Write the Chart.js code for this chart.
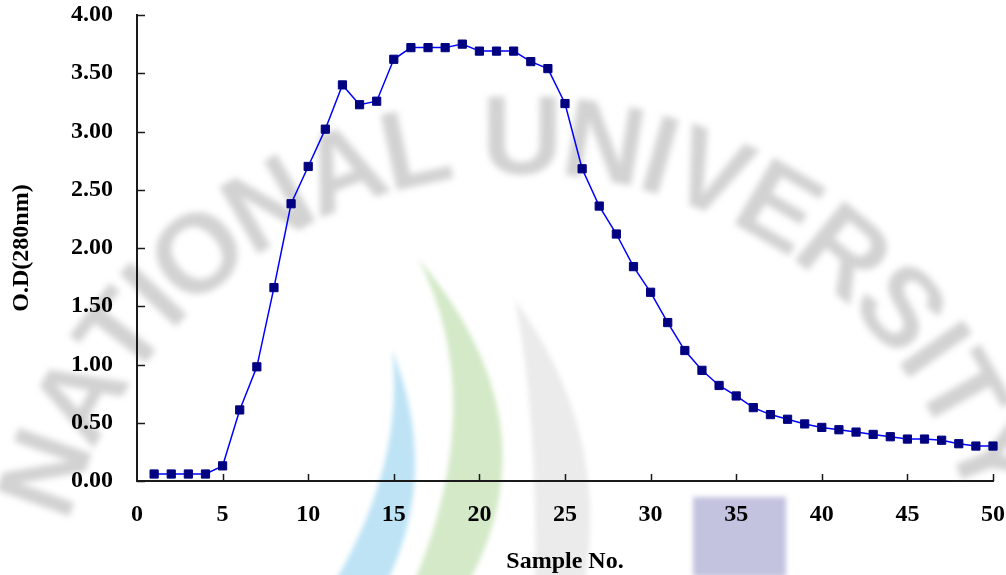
<!DOCTYPE html>
<html>
<head>
<meta charset="utf-8">
<script src="https://cdn.jsdelivr.net/npm/chart.js@4.4.1/dist/chart.umd.min.js"></script>
<style>
html, body { margin: 0; padding: 0; background: #fff; }
#wrap { width: 1006px; height: 575px; }
</style>
</head>
<body>
<div id="wrap"><canvas id="c-od" width="1006" height="575"></canvas></div>
<script>
// Elution profile, absorbance at 280 nm per collected fraction
const SAMPLES = [1,2,3,4,5,6,7,8,9,10,11,12,13,14,15,16,17,18,19,20,21,22,23,24,25,
                 26,27,28,29,30,31,32,33,34,35,36,37,38,39,40,41,42,43,44,45,46,47,48,49,50];
const OD = [0.06,0.06,0.06,0.06,0.13,0.61,0.98,1.66,2.38,2.70,3.02,3.40,3.23,3.26,3.62,
            3.72,3.72,3.72,3.75,3.69,3.69,3.69,3.60,3.54,3.24,2.68,2.36,2.12,1.84,1.62,
            1.36,1.12,0.95,0.82,0.73,0.63,0.57,0.53,0.49,0.46,0.44,0.42,0.40,0.38,0.36,
            0.36,0.35,0.32,0.30,0.30];
const X_TICKS = [0,5,10,15,20,25,30,35,40,45,50];
const Y_TICKS = [0,0.5,1,1.5,2,2.5,3,3.5,4];
const X_TITLE = 'Sample No.';
const Y_TITLE = 'O.D(280nm)';
const WATERMARK = 'NATIONAL UNIVERSITY';

const FONT = '"Liberation Serif", "Times New Roman", serif';
const AXIS_COLOR = '#1a1a1a';

// faint background stamp that sits behind the plot
const watermark = {
  id: 'watermark',
  beforeDraw(chart) {
    const ctx = chart.ctx;
    ctx.save();
    ctx.filter = 'blur(2.5px)';

    ctx.fillStyle = '#c3c3df';
    ctx.fillRect(693, 497, 93, 80);

    ctx.fillStyle = '#ebebeb';
    ctx.beginPath();
    ctx.moveTo(515, 300);
    ctx.quadraticCurveTo(610, 430, 585, 580);
    ctx.lineTo(535, 580);
    ctx.quadraticCurveTo(538, 420, 515, 300);
    ctx.fill();

    ctx.fillStyle = '#d3e9c7';
    ctx.beginPath();
    ctx.moveTo(418, 258);
    ctx.quadraticCurveTo(555, 420, 470, 580);
    ctx.lineTo(415, 580);
    ctx.quadraticCurveTo(490, 400, 418, 258);
    ctx.fill();

    ctx.fillStyle = '#bde3f5';
    ctx.beginPath();
    ctx.moveTo(392, 350);
    ctx.quadraticCurveTo(440, 470, 388, 580);
    ctx.lineTo(336, 580);
    ctx.quadraticCurveTo(405, 460, 392, 350);
    ctx.fill();

    ctx.filter = 'blur(3px)';
    ctx.fillStyle = '#d2d2d2';
    ctx.font = 'bold 112px "Liberation Sans", sans-serif';
    ctx.textAlign = 'center';
    ctx.textBaseline = 'middle';
    const chars = WATERMARK.split('');
    let cum = 0;
    const centers = chars.map(ch => {
      const w = ctx.measureText(ch).width;
      const c = cum + w / 2;
      cum += w;
      return c;
    });
    const a0 = -70.3 * Math.PI / 180, a1 = 68.6 * Math.PI / 180;
    const cx = 522, cy = 643, R = 500;
    const c0 = centers[0], cN = centers[centers.length - 1];
    chars.forEach((ch, i) => {
      if (ch === ' ') return;
      const a = a0 + (centers[i] - c0) / (cN - c0) * (a1 - a0);
      ctx.save();
      ctx.translate(cx + R * Math.sin(a), cy - R * Math.cos(a));
      ctx.rotate(a);
      ctx.fillText(ch, 0, 0);
      ctx.restore();
    });
    ctx.restore();
  }
};

// tick marks point into the plot area
const innerTicks = {
  id: 'innerTicks',
  afterDraw(chart) {
    const {ctx, chartArea: a, scales: {x, y}} = chart;
    ctx.save();
    ctx.strokeStyle = AXIS_COLOR;
    ctx.lineWidth = 1.5;
    ctx.beginPath();
    y.ticks.forEach(t => {
      const py = Math.round(y.getPixelForValue(t.value)) + 0.5;
      ctx.moveTo(a.left, py);
      ctx.lineTo(a.left + 8, py);
    });
    x.ticks.forEach(t => {
      if (t.value === 0) return;
      const px = Math.round(x.getPixelForValue(t.value)) + 0.5;
      ctx.moveTo(px, a.bottom);
      ctx.lineTo(px, a.bottom - 7);
    });
    ctx.stroke();
    ctx.restore();
  }
};

new Chart(document.getElementById('c-od'), {
  type: 'line',
  data: {
    datasets: [{
      label: Y_TITLE,
      data: SAMPLES.map((s, i) => ({x: s, y: OD[i]})),
      borderColor: '#0000ff',
      borderWidth: 1.5,
      tension: 0,
      pointStyle: 'rect',
      pointRadius: 5.8,
      pointBackgroundColor: '#000080',
      pointBorderColor: '#000080',
      pointBorderWidth: 1,
      clip: false
    }]
  },
  options: {
    responsive: false,
    devicePixelRatio: 1,
    animation: false,
    events: [],
    layout: { padding: { top: 15, right: 13, left: 0, bottom: 0 } },
    plugins: { legend: { display: false }, tooltip: { enabled: false } },
    scales: {
      x: {
        type: 'linear',
        min: 0, max: 50,
        // fixed band under the plot; label overhang is covered by layout padding
        afterFit: s => { s.height = 94; s.paddingLeft = 0; s.paddingRight = 0; },
        afterBuildTicks: s => { s.ticks = X_TICKS.map(v => ({value: v})); },
        border: { display: true, color: AXIS_COLOR, width: 2 },
        grid: { drawOnChartArea: false, drawTicks: false },
        ticks: {
          padding: 19,
          maxRotation: 0,
          autoSkip: false,
          color: '#000',
          font: { family: FONT, size: 24, weight: 'bold' },
          callback: v => String(v)
        },
        title: {
          display: true,
          text: X_TITLE,
          color: '#000',
          font: { family: FONT, size: 24, weight: 'bold', lineHeight: 1 },
          padding: { top: 0, bottom: 1 }
        }
      },
      y: {
        min: 0, max: 4,
        afterFit: s => { s.width = 137; s.paddingTop = 0; s.paddingBottom = 0; },
        afterBuildTicks: s => { s.ticks = Y_TICKS.map(v => ({value: v})); },
        border: { display: true, color: AXIS_COLOR, width: 2 },
        grid: { drawOnChartArea: false, drawTicks: false },
        ticks: {
          padding: 24,
          color: '#000',
          font: { family: FONT, size: 24, weight: 'bold' },
          callback: v => Number(v).toFixed(2)
        },
        title: {
          display: true,
          text: Y_TITLE,
          color: '#000',
          font: { family: FONT, size: 24, weight: 'bold', lineHeight: 1 },
          padding: { top: 10, bottom: 0 }
        }
      }
    }
  },
  plugins: [watermark, innerTicks]
});
</script>
</body>
</html>
